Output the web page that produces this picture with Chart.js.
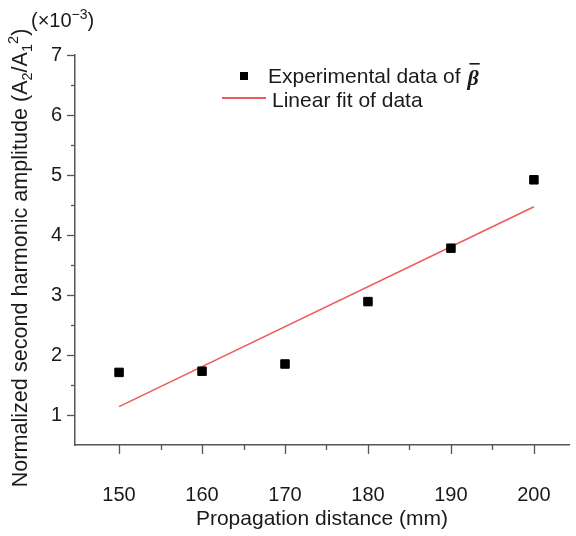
<!DOCTYPE html>
<html>
<head>
<meta charset="utf-8">
<script src="https://cdn.jsdelivr.net/npm/chart.js@4.4.1/dist/chart.umd.min.js"></script>
<style>
html,body{margin:0;padding:0;background:#fff;}
canvas{display:block;}
</style>
</head>
<body>
<canvas id="c" width="576" height="536"></canvas>
<script>
// ---- data ----
const distances = [150, 160, 170, 180, 190, 200];
const amplitudes = [1.71, 1.73, 1.85, 2.89, 3.78, 4.92]; // x10^-3
const fitX = [150, 200];
const fitY = [1.14, 4.47];
const xTickLabels = [150, 160, 170, 180, 190, 200];
const xMinorTicks = [155, 165, 175, 185, 195];
const yTickLabels = [1, 2, 3, 4, 5, 6, 7];
const yMinorTicks = [1.5, 2.5, 3.5, 4.5, 5.5, 6.5];
const legendLabels = ['Experimental data of ', 'Linear fit of data'];
const xTitle = 'Propagation distance (mm)';
const yTitleMain = 'Normalized second harmonic amplitude (A';

const FONT = '"Liberation Sans", Arial, Helvetica, sans-serif';
const AXIS_COLOR = '#555';
const TEXT_COLOR = '#1a1a1a';
const RED = '#ef5b5b';

const decorPlugin = {
  id: 'decor',
  afterDraw(chart) {
    const ctx = chart.ctx;
    const xs = chart.scales.x, ys = chart.scales.y;
    const ca = chart.chartArea;
    ctx.save();
    // ticks
    ctx.strokeStyle = AXIS_COLOR;
    ctx.lineWidth = 1.3;
    const yl = ca.left;
    yTickLabels.forEach(v => {
      const p = Math.round(ys.getPixelForValue(v)) + 0.5;
      ctx.beginPath(); ctx.moveTo(yl - 8, p); ctx.lineTo(yl, p); ctx.stroke();
    });
    yMinorTicks.forEach(v => {
      const p = Math.round(ys.getPixelForValue(v)) + 0.5;
      ctx.beginPath(); ctx.moveTo(yl - 4, p); ctx.lineTo(yl, p); ctx.stroke();
    });
    const xb = ca.bottom;
    xTickLabels.forEach(v => {
      const p = Math.round(xs.getPixelForValue(v)) + 0.5;
      ctx.beginPath(); ctx.moveTo(p, xb); ctx.lineTo(p, xb + 9); ctx.stroke();
    });
    xMinorTicks.forEach(v => {
      const p = Math.round(xs.getPixelForValue(v)) + 0.5;
      ctx.beginPath(); ctx.moveTo(p, xb); ctx.lineTo(p, xb + 5); ctx.stroke();
    });

    // y title with sub/superscripts
    ctx.fillStyle = TEXT_COLOR;
    ctx.textBaseline = 'alphabetic';
    ctx.textAlign = 'left';
    const big = '21.6px ' + FONT, small = '14.5px ' + FONT;
    const segs = [
      {t: yTitleMain, f: big, dy: 0},
      {t: '2', f: small, dy: 5},
      {t: '/A', f: big, dy: 0},
      {t: '1', f: small, dy: 5},
      {t: '2', f: small, dy: -9},
      {t: ')', f: big, dy: 0}
    ];
    let total = 0;
    segs.forEach(s => { ctx.font = s.f; s.w = ctx.measureText(s.t).width; total += s.w; });
    ctx.translate(27, 258);
    ctx.rotate(-Math.PI / 2);
    let cx = -total / 2;
    segs.forEach(s => { ctx.font = s.f; ctx.fillText(s.t, cx, s.dy); cx += s.w; });
    ctx.setTransform(1, 0, 0, 1, 0, 0);

    // (x10^-3)
    const mult = [
      {t: '(\u00d710', f: '20px ' + FONT, dy: 0},
      {t: '\u22123', f: '14px ' + FONT, dy: -8},
      {t: ')', f: '20px ' + FONT, dy: 0}
    ];
    let mx = 31;
    mult.forEach(s => { ctx.font = s.f; ctx.fillText(s.t, mx, 27 + s.dy); mx += ctx.measureText(s.t).width; });

    // legend
    const legFont = '21px ' + FONT;
    ctx.fillStyle = '#000';
    ctx.fillRect(240, 72, 8, 8);
    ctx.fillStyle = TEXT_COLOR;
    ctx.font = legFont;
    ctx.textBaseline = 'middle';
    ctx.fillText(legendLabels[0], 268, 77);
    const bx = 268 + ctx.measureText(legendLabels[0]).width + 1;
    ctx.font = 'italic bold 22px "Liberation Serif", "Times New Roman", serif';
    ctx.fillText('\u03b2', bx, 79);
    const bw = ctx.measureText('\u03b2').width;
    ctx.fillRect(bx + 2, 63, bw - 1, 1.6);
    ctx.font = legFont;
    ctx.fillText(legendLabels[1], 272, 101);
    ctx.strokeStyle = RED;
    ctx.lineWidth = 2;
    ctx.beginPath(); ctx.moveTo(222, 98); ctx.lineTo(266, 98); ctx.stroke();
    ctx.restore();
  }
};

new Chart(document.getElementById('c'), {
  type: 'scatter',
  data: {
    datasets: [
      {
        type: 'line',
        label: legendLabels[1],
        data: fitX.map((x, i) => ({x: x, y: fitY[i]})),
        borderColor: RED,
        borderWidth: 1.6,
        pointRadius: 0,
        fill: false,
        order: 2
      },
      {
        label: legendLabels[0],
        data: distances.map((x, i) => ({x: x, y: amplitudes[i]})),
        backgroundColor: '#000',
        borderColor: '#000',
        pointStyle: 'rect',
        pointRadius: 6,
        order: 1
      }
    ]
  },
  options: {
    responsive: false,
    animation: false,
    layout: {padding: {top: 55, right: 0, left: 0, bottom: 0}},
    plugins: {legend: {display: false}, tooltip: {enabled: false}},
    scales: {
      x: {
        type: 'linear',
        min: 144.69,
        max: 204.23,
        afterBuildTicks: s => { s.ticks = xTickLabels.map(v => ({value: v})); },
        afterFit: s => { s.height = 91; s.paddingRight = 0; s.paddingLeft = 0; },
        grid: {display: true, drawOnChartArea: false, drawTicks: false},
        border: {display: true, color: AXIS_COLOR, width: 1.5},
        ticks: {
          font: {family: FONT, size: 20},
          color: TEXT_COLOR,
          padding: 38,
          maxRotation: 0,
          autoSkip: false
        },
        title: {
          display: true,
          text: xTitle,
          font: {family: FONT, size: 21},
          color: TEXT_COLOR,
          padding: {top: 0, bottom: 4}
        }
      },
      y: {
        type: 'linear',
        min: 0.5,
        max: 7,
        afterBuildTicks: s => { s.ticks = yTickLabels.map(v => ({value: v})); },
        afterFit: s => { s.width = 75; s.paddingTop = 0; s.paddingBottom = 0; },
        grid: {display: true, drawOnChartArea: false, drawTicks: false},
        border: {display: true, color: AXIS_COLOR, width: 1.5},
        ticks: {
          font: {family: FONT, size: 20},
          color: TEXT_COLOR,
          padding: 13,
          autoSkip: false
        }
      }
    }
  },
  plugins: [decorPlugin]
});
</script>
</body>
</html>
